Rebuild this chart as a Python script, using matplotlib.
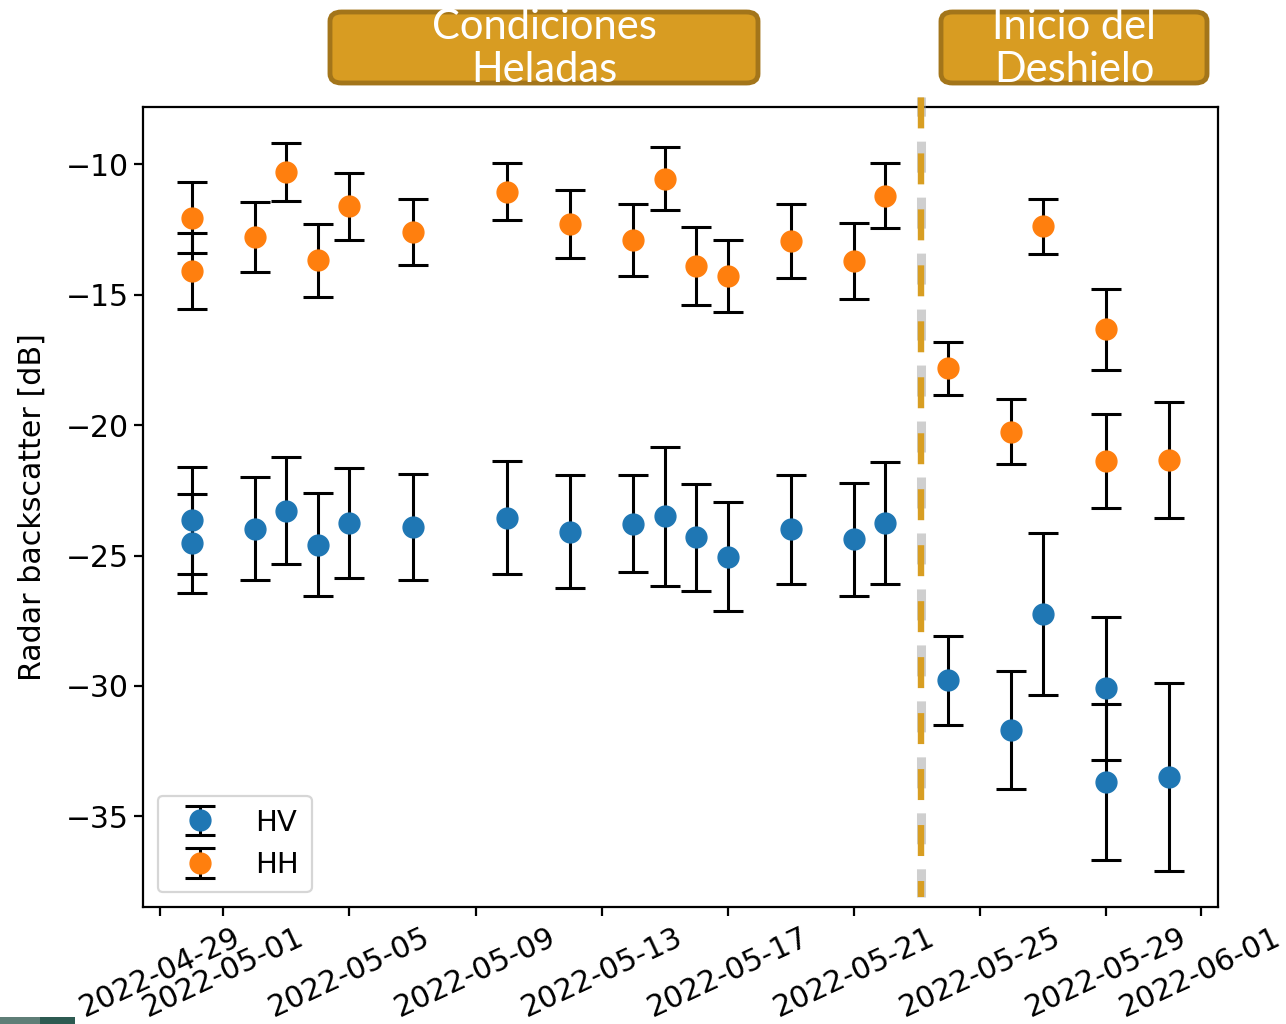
import datetime as dt
import matplotlib
matplotlib.use("Agg")
import matplotlib.pyplot as plt
import matplotlib.dates as mdates
from matplotlib.patches import FancyBboxPatch, Rectangle

plt.rcParams["font.family"] = "DejaVu Sans"
plt.rcParams["lines.scale_dashes"] = False

# HV (cross-pol) backscatter
hv_dates = ["2022-04-30", "2022-04-30", "2022-05-02", "2022-05-03", "2022-05-04",
            "2022-05-05", "2022-05-07", "2022-05-10", "2022-05-12", "2022-05-14",
            "2022-05-15", "2022-05-16", "2022-05-17", "2022-05-19", "2022-05-21",
            "2022-05-22", "2022-05-24", "2022-05-26", "2022-05-27", "2022-05-29",
            "2022-05-29", "2022-05-31"]
hv_mean = [-23.65, -24.52, -23.97, -23.27, -24.58, -23.74, -23.91, -23.55, -24.08, -23.77,
           -23.49, -24.30, -25.05, -23.99, -24.37, -23.74, -29.78, -31.69, -27.24, -30.09,
           -33.69, -33.48]
hv_std = [2.04, 1.90, 1.98, 2.07, 1.97, 2.10, 2.03, 2.17, 2.16, 1.87,
          2.67, 2.05, 2.09, 2.10, 2.16, 2.33, 1.71, 2.26, 3.11, 2.74,
          2.98, 3.60]

# HH (co-pol) backscatter
hh_dates = hv_dates
hh_mean = [-12.05, -14.10, -12.78, -10.29, -13.67, -11.60, -12.60, -11.04, -12.28, -12.89,
           -10.54, -13.88, -14.27, -12.94, -13.70, -11.20, -17.82, -20.25, -12.37, -16.32,
           -21.38, -21.32]
hh_std = [1.36, 1.46, 1.36, 1.10, 1.40, 1.28, 1.27, 1.08, 1.32, 1.37,
          1.22, 1.49, 1.38, 1.42, 1.45, 1.25, 1.02, 1.25, 1.06, 1.56,
          1.80, 2.22]

thaw_start = "2022-05-23 03:00"

hv_x = [dt.datetime.fromisoformat(d) for d in hv_dates]
hh_x = [dt.datetime.fromisoformat(d) for d in hh_dates]

fig = plt.figure(figsize=(12.86, 10.24), dpi=100)
W, H = 1286, 1024
ax = fig.add_axes([0.1112, 0.1143, 0.8359, 0.7812])

ekw = dict(fmt="o", markersize=15, ecolor="black", elinewidth=2.2,
           capsize=11, capthick=2.2)
ax.errorbar(hv_x, hv_mean, yerr=hv_std, color="#1f77b4", label="HV", **ekw)
ax.errorbar(hh_x, hh_mean, yerr=hh_std, color="#ff7f0e", label="HH", **ekw)

ax.xaxis.set_major_locator(mdates.DayLocator(bymonthday=[1, 5, 9, 13, 17, 21, 25, 29]))
ax.xaxis.set_major_formatter(mdates.DateFormatter("%Y-%m-%d"))
ax.set_yticks([-10, -15, -20, -25, -30, -35])
ax.tick_params(labelsize=21.5, width=1.6, length=6.5)
ax.tick_params(axis="x", pad=5)
for lbl in ax.get_xticklabels():
    lbl.set_rotation(25)
for s in ax.spines.values():
    s.set_linewidth(1.6)
ax.set_ylabel("Radar backscatter [dB]", fontsize=21.7)
ax.yaxis.set_label_coords(-0.090, 0.5)

leg = ax.legend(loc="lower left", fontsize=21, borderpad=0.45, handletextpad=0.9,
                labelspacing=0.5, borderaxespad=0.5, handlelength=2.0)
leg.get_frame().set_linewidth(1.6)

# thaw onset marker (drawn a bit past the frame, like the slide overlay)
t0 = dt.datetime.fromisoformat(thaw_start)
ax.axvline(t0, ymin=0.0125, ymax=1.0125, color="#a0a0a0", lw=6.5, alpha=0.5,
           linestyle=(2.0, (22.3, 18.0)), dash_capstyle="butt", clip_on=False, zorder=4)
ax.axvline(t0, ymin=0.0125, ymax=1.0125, color="#D89E22", lw=4.6,
           linestyle=(10.8, (22.3, 18.0)), dash_capstyle="butt", clip_on=False, zorder=5)

# header boxes
boxes = [("Condiciones", "Heladas", 330, 758), ("Inicio del", "Deshielo", 941, 1207)]
for top, bottom, x0, x1 in boxes:
    bx = FancyBboxPatch((x0 / W, 1 - 83 / H), (x1 - x0) / W, 71 / H,
                        boxstyle="round,pad=0,rounding_size=0.009",
                        transform=fig.transFigure, facecolor="#D89C22",
                        edgecolor="#A3751A", linewidth=3.5)
    fig.add_artist(bx)
    xc = (x0 + x1) / 2 / W
    fig.text(xc, 1 - 27 / H, top, ha="center", va="center", color="white",
             fontsize=30, fontfamily="Lato")
    fig.text(xc, 1 - 70 / H, bottom, ha="center", va="center", color="white",
             fontsize=30, fontfamily="Lato")

# slide footer strip
fig.add_artist(Rectangle((0, 0), 40 / W, 7 / H, transform=fig.transFigure,
                         facecolor="#5f7e77", edgecolor="none"))
fig.add_artist(Rectangle((40 / W, 0), 35 / W, 7 / H, transform=fig.transFigure,
                         facecolor="#2d5a51", edgecolor="none"))

fig.savefig("out.png", dpi=100)
